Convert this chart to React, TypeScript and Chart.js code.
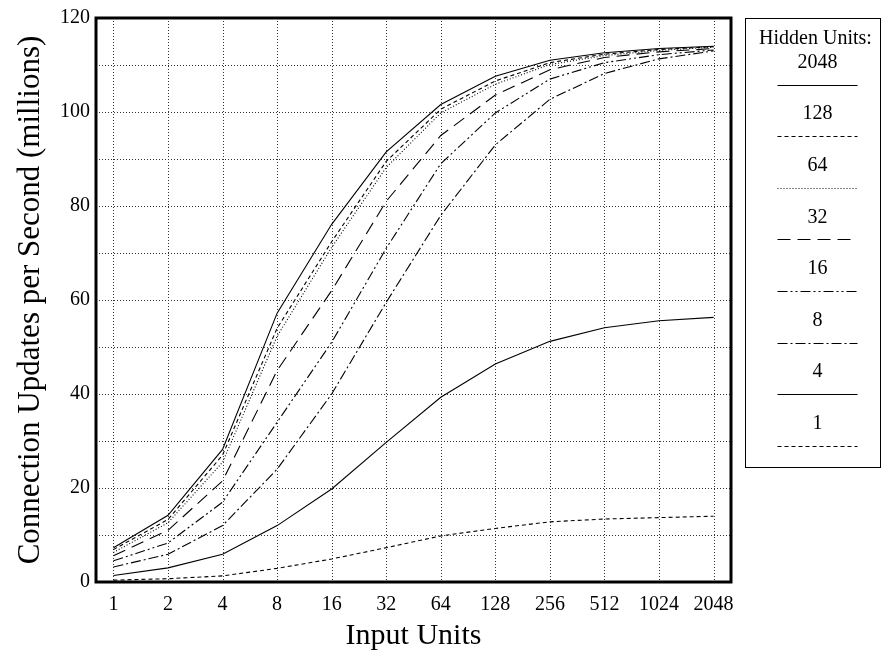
import React, { useEffect, useRef } from "react";
import { Chart, registerables } from "chart.js";

Chart.register(...registerables);

const inputUnits = ["1", "2", "4", "8", "16", "32", "64", "128", "256", "512", "1024", "2048"];
const hiddenLabels = ["2048", "128", "64", "32", "16", "8", "4", "1"];

const h2048 = [7.3, 14.2, 28.2, 57.2, 76.1, 91.5, 101.6, 107.6, 111.0, 112.6, 113.5, 114.0];
const h128 = [6.9, 13.3, 27.0, 54.0, 72.4, 89.5, 100.6, 106.6, 110.5, 112.3, 113.3, 113.9];
const h64 = [6.3, 12.6, 25.5, 52.3, 71.2, 88.2, 99.8, 105.9, 110.1, 112.0, 113.1, 113.8];
const h32 = [5.6, 11.0, 21.5, 45.0, 62.0, 81.0, 95.0, 103.6, 109.0, 111.6, 112.8, 113.5];
const h16 = [4.5, 8.3, 17.0, 34.0, 51.0, 71.0, 89.0, 99.8, 107.0, 110.5, 112.2, 113.2];
const h8 = [3.2, 5.9, 12.0, 24.0, 40.0, 59.5, 78.0, 93.0, 102.7, 108.2, 111.3, 113.0];
const h4 = [1.4, 3.0, 5.9, 12.0, 19.8, 29.7, 39.3, 46.4, 51.2, 54.1, 55.6, 56.3];
const h1 = [0.4, 0.7, 1.3, 2.9, 4.9, 7.3, 9.8, 11.4, 12.8, 13.4, 13.7, 14.0];

const seriesValues = [h2048, h128, h64, h32, h16, h8, h4, h1];
const dashes: number[][] = [
  [],
  [4, 3],
  [1, 2],
  [13, 7],
  [10, 3, 2, 3, 2, 3],
  [10, 3, 2, 3],
  [],
  [4, 3],
];

const yTickStep = 10;
const yLabelStep = 20;
const FONT = "'Liberation Serif', 'DejaVu Serif', serif";

const gridPlugin = {
  id: "dottedGrid",
  beforeDatasetsDraw(chart: any) {
    const { ctx, chartArea: a, scales } = chart;
    ctx.save();
    ctx.strokeStyle = "#333";
    ctx.lineWidth = 1;
    ctx.setLineDash([1, 2]);
    scales.x.ticks.forEach((t: any) => {
      const px = Math.round(scales.x.getPixelForValue(t.value)) + 0.5;
      ctx.beginPath();
      ctx.moveTo(px, a.top);
      ctx.lineTo(px, a.bottom);
      ctx.stroke();
    });
    scales.y.ticks.forEach((t: any) => {
      const py = Math.round(scales.y.getPixelForValue(t.value)) + 0.5;
      ctx.beginPath();
      ctx.moveTo(a.left, py);
      ctx.lineTo(a.right, py);
      ctx.stroke();
    });
    ctx.restore();
  },
};

const framePlugin = {
  id: "frameAndLegend",
  afterDraw(chart: any) {
    const { ctx, chartArea: a } = chart;
    ctx.save();
    ctx.strokeStyle = "#000";
    ctx.lineWidth = 3;
    ctx.setLineDash([]);
    ctx.strokeRect(a.left, a.top, a.right - a.left, a.bottom - a.top);

    // legend box
    const bx = a.right + 14.5;
    const by = a.top + 0.5;
    const bw = 135;
    const bh = 449;
    ctx.lineWidth = 1;
    ctx.strokeRect(bx, by, bw, bh);
    const cx = bx + 72;
    ctx.fillStyle = "#000";
    ctx.textAlign = "center";
    ctx.textBaseline = "middle";
    ctx.font = `20px ${FONT}`;
    ctx.fillText("Hidden Units:", cx - 2, by + 20);
    chart.data.datasets.forEach((ds: any, i: number) => {
      const ly = by + 66 + i * 51.6;
      ctx.fillText(ds.label, cx, ly - 22);
      ctx.beginPath();
      ctx.setLineDash(ds.borderDash || []);
      ctx.lineWidth = 1;
      ctx.moveTo(cx - 40, Math.round(ly) + 0.5);
      ctx.lineTo(cx + 40, Math.round(ly) + 0.5);
      ctx.stroke();
    });
    ctx.restore();
  },
};

export default function App() {
  const ref = useRef<HTMLCanvasElement>(null);
  useEffect(() => {
    if (!ref.current) return;
    const chart = new Chart(ref.current, {
      type: "line",
      data: {
        datasets: seriesValues.map((vals, i) => ({
          label: hiddenLabels[i],
          data: vals.map((v, j) => ({ x: j, y: v })),
          borderColor: "#000",
          borderWidth: 1.1,
          borderDash: dashes[i],
          pointRadius: 0,
          fill: false,
          tension: 0,
        })),
      },
      options: {
        animation: false,
        responsive: true,
        maintainAspectRatio: false,
        layout: { padding: { left: 0, right: 155, top: 16, bottom: 0 } },
        plugins: { legend: { display: false }, tooltip: { enabled: false } },
        scales: {
          x: {
            type: "linear",
            min: -0.32,
            max: inputUnits.length - 1 + 0.32,
            afterBuildTicks: (s: any) => {
              s.ticks = inputUnits.map((_, i) => ({ value: i }));
            },
            afterFit: (s: any) => {
              s.height = 76;
            },
            ticks: {
              autoSkip: false,
              maxRotation: 0,
              padding: 11,
              color: "#000",
              font: { family: FONT, size: 20 },
              callback: (v: any) => inputUnits[Math.round(v)] ?? "",
            },
            grid: { display: false, drawTicks: false },
            border: { display: false },
            title: {
              display: true,
              text: "Input Units",
              color: "#000",
              font: { family: FONT, size: 30 },
              padding: { top: 0, bottom: 4 },
            },
          },
          y: {
            min: 0,
            max: 120,
            afterFit: (s: any) => {
              s.width = 96;
            },
            ticks: {
              stepSize: yTickStep,
              padding: 6,
              color: "#000",
              font: { family: FONT, size: 20 },
              callback: (v: any) => (v % yLabelStep === 0 ? String(v) : ""),
            },
            grid: { display: false, drawTicks: false },
            border: { display: false },
            title: {
              display: true,
              text: "Connection Updates per Second (millions)",
              color: "#000",
              font: { family: FONT, size: 31 },
              padding: { top: 12, bottom: 0 },
            },
          },
        },
      },
      plugins: [gridPlugin, framePlugin],
    } as any);
    return () => chart.destroy();
  }, []);
  return (
    <div style={{ position: "fixed", left: 0, top: 0, width: 886, height: 658, background: "#fff" }}>
      <canvas ref={ref} />
    </div>
  );
}
